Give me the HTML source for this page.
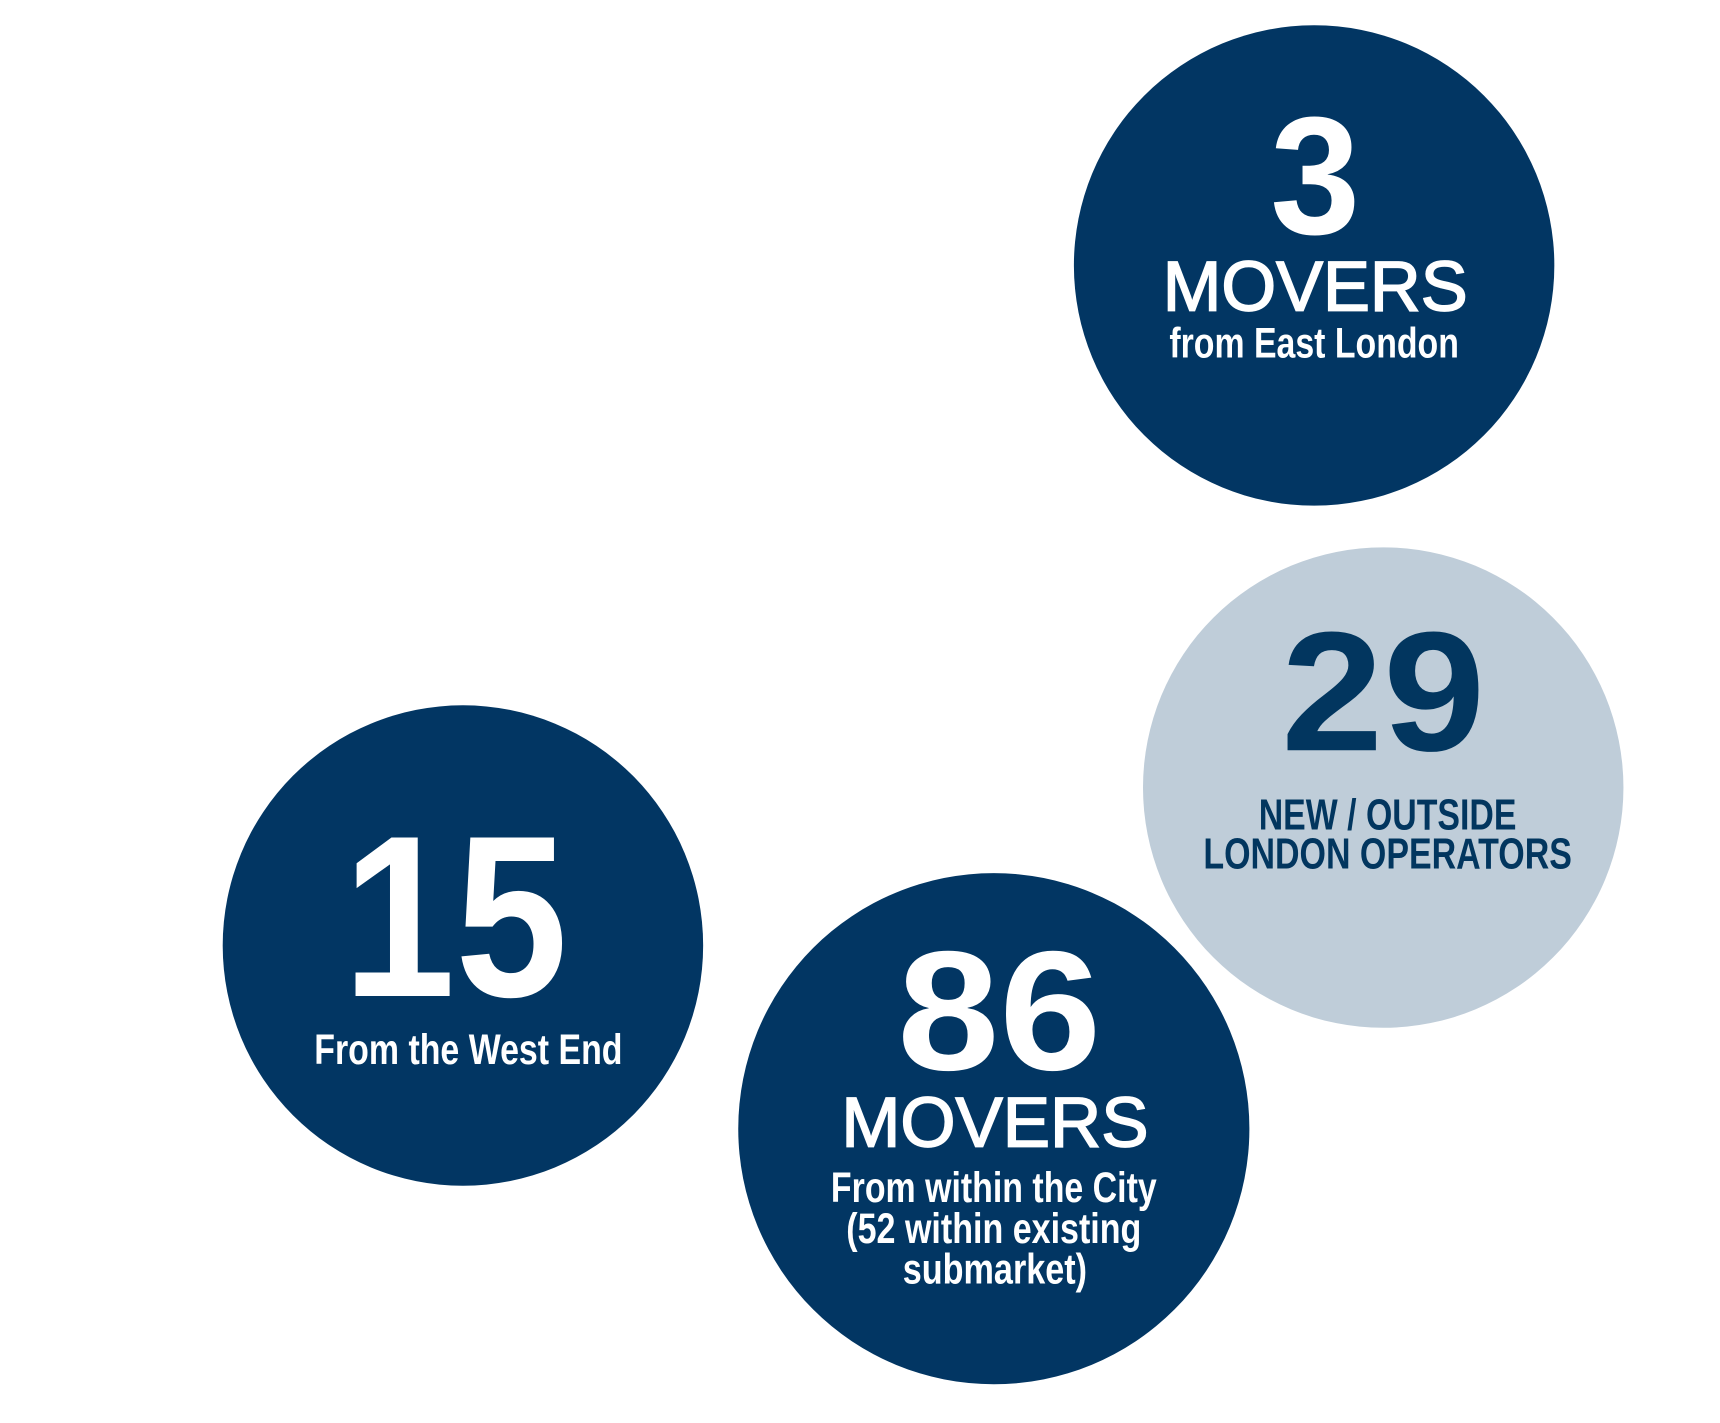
<!DOCTYPE html>
<html><head><meta charset="utf-8"><style>html,body{margin:0;padding:0;background:#fff}svg{display:block}</style></head>
<body>
<svg width="1720" height="1423" viewBox="0 0 1568 1297.3" xmlns="http://www.w3.org/2000/svg" font-family="Liberation Sans, sans-serif">
<rect width="1568" height="1297.3" fill="#fff"/>
<circle cx="1198" cy="242" r="219" fill="#023663"/>
<circle cx="1261" cy="718" r="219" fill="#bfcdd9"/>
<circle cx="422" cy="862" r="219" fill="#023663"/>
<circle cx="906" cy="1029" r="233" fill="#023663"/>
<g fill="#fff" text-anchor="middle">
<text x="1199" y="213" font-size="153" font-weight="bold" textLength="82" lengthAdjust="spacingAndGlyphs">3</text>
<text x="1199" y="283" font-size="64" stroke="#fff" stroke-width="1.5" textLength="278" lengthAdjust="spacingAndGlyphs">MOVERS</text>
<text x="1198" y="326" font-size="39" font-weight="bold" textLength="264" lengthAdjust="spacingAndGlyphs">from East London</text>
<text x="415" y="908" font-size="210" font-weight="bold" textLength="205" lengthAdjust="spacingAndGlyphs">15</text>
<text x="427" y="970" font-size="39" font-weight="bold" textLength="281" lengthAdjust="spacingAndGlyphs">From the West End</text>
<text x="911" y="975" font-size="155" font-weight="bold" textLength="186" lengthAdjust="spacingAndGlyphs">86</text>
<text x="907" y="1045" font-size="64" stroke="#fff" stroke-width="1.5" textLength="280" lengthAdjust="spacingAndGlyphs">MOVERS</text>
<text x="906" y="1096" font-size="39" font-weight="bold" textLength="297" lengthAdjust="spacingAndGlyphs">From within the City</text>
<text x="906" y="1133" font-size="39" font-weight="bold" textLength="269" lengthAdjust="spacingAndGlyphs">(52 within existing</text>
<text x="907" y="1170" font-size="39" font-weight="bold" textLength="168" lengthAdjust="spacingAndGlyphs">submarket)</text>
</g>
<g fill="#02365f" text-anchor="middle">
<text x="1261" y="684" font-size="155" font-weight="bold" textLength="186" lengthAdjust="spacingAndGlyphs">29</text>
<text x="1265" y="756" font-size="40" font-weight="bold" textLength="235" lengthAdjust="spacingAndGlyphs">NEW / OUTSIDE</text>
<text x="1265" y="792" font-size="40" font-weight="bold" textLength="336" lengthAdjust="spacingAndGlyphs">LONDON OPERATORS</text>
</g>
</svg>
</body></html>
